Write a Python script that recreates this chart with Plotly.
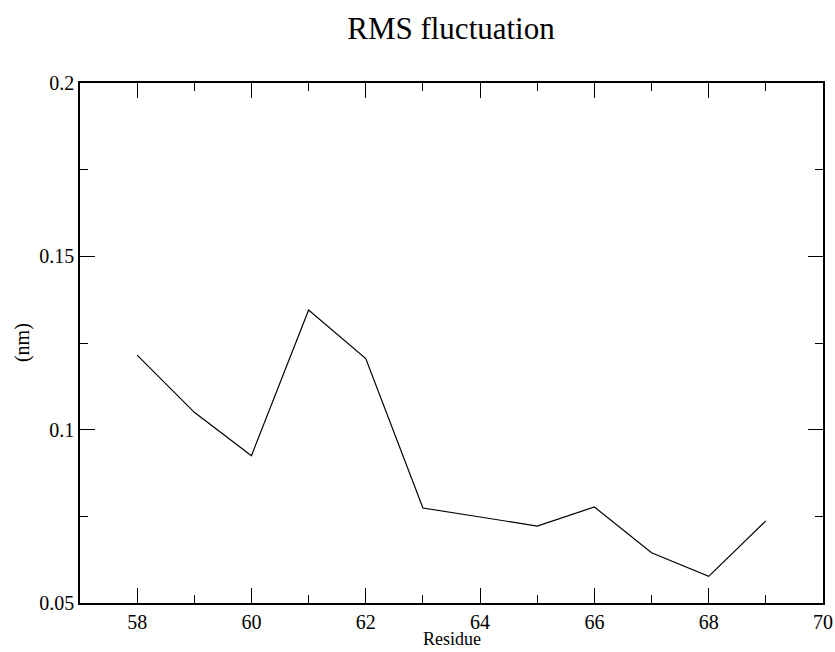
import plotly.graph_objects as go

residue = [58, 59, 60, 61, 62, 63, 64, 65, 66, 67, 68, 69]
rmsf_nm = [0.1215, 0.1050, 0.0925, 0.1345, 0.1205, 0.0774, 0.0748, 0.0722, 0.0777, 0.0645, 0.0577, 0.0737]

title_text = "RMS fluctuation"
x_title = "Residue"
y_title = "(nm)"

fig = go.Figure()
fig.add_trace(go.Scatter(x=residue, y=rmsf_nm, mode="lines",
                         line=dict(color="black", width=1.2), showlegend=False))

font_family = "Liberation Serif"
axis_common = dict(
    showline=True, linecolor="black", linewidth=1.5, mirror="allticks",
    ticks="inside", ticklen=15, tickwidth=1.2, tickcolor="black",
    showgrid=False, zeroline=False, automargin=False,
    tickfont=dict(family=font_family, size=20, color="black"),
)
fig.update_xaxes(range=[57, 70], tick0=58, dtick=2,
                 minor=dict(dtick=1, ticks="inside", ticklen=8, tickwidth=1.2, tickcolor="black"),
                 **axis_common)
fig.update_yaxes(range=[0.05, 0.2], tick0=0.05, dtick=0.05, tickformat="~g",
                 minor=dict(dtick=0.025, ticks="inside", ticklen=8, tickwidth=1.2, tickcolor="black"),
                 **axis_common)
fig.add_annotation(text=x_title, xref="paper", yref="paper", x=0.5, y=-0.0915,
                   xanchor="center", yanchor="bottom", showarrow=False,
                   font=dict(family=font_family, size=18, color="black"))
fig.add_annotation(text=y_title, xref="paper", yref="paper", x=-0.078, y=0.5,
                   xanchor="center", yanchor="middle", showarrow=False, textangle=-90,
                   font=dict(family=font_family, size=20, color="black"))
fig.update_layout(
    width=835, height=652,
    margin=dict(l=80, r=12, t=83, b=49),
    paper_bgcolor="white", plot_bgcolor="white",
    title=dict(text=title_text, x=0.5401, xanchor="center", y=0.957, yanchor="middle",
               font=dict(family=font_family, size=31, color="black")),
)
fig.write_html("out.html")
